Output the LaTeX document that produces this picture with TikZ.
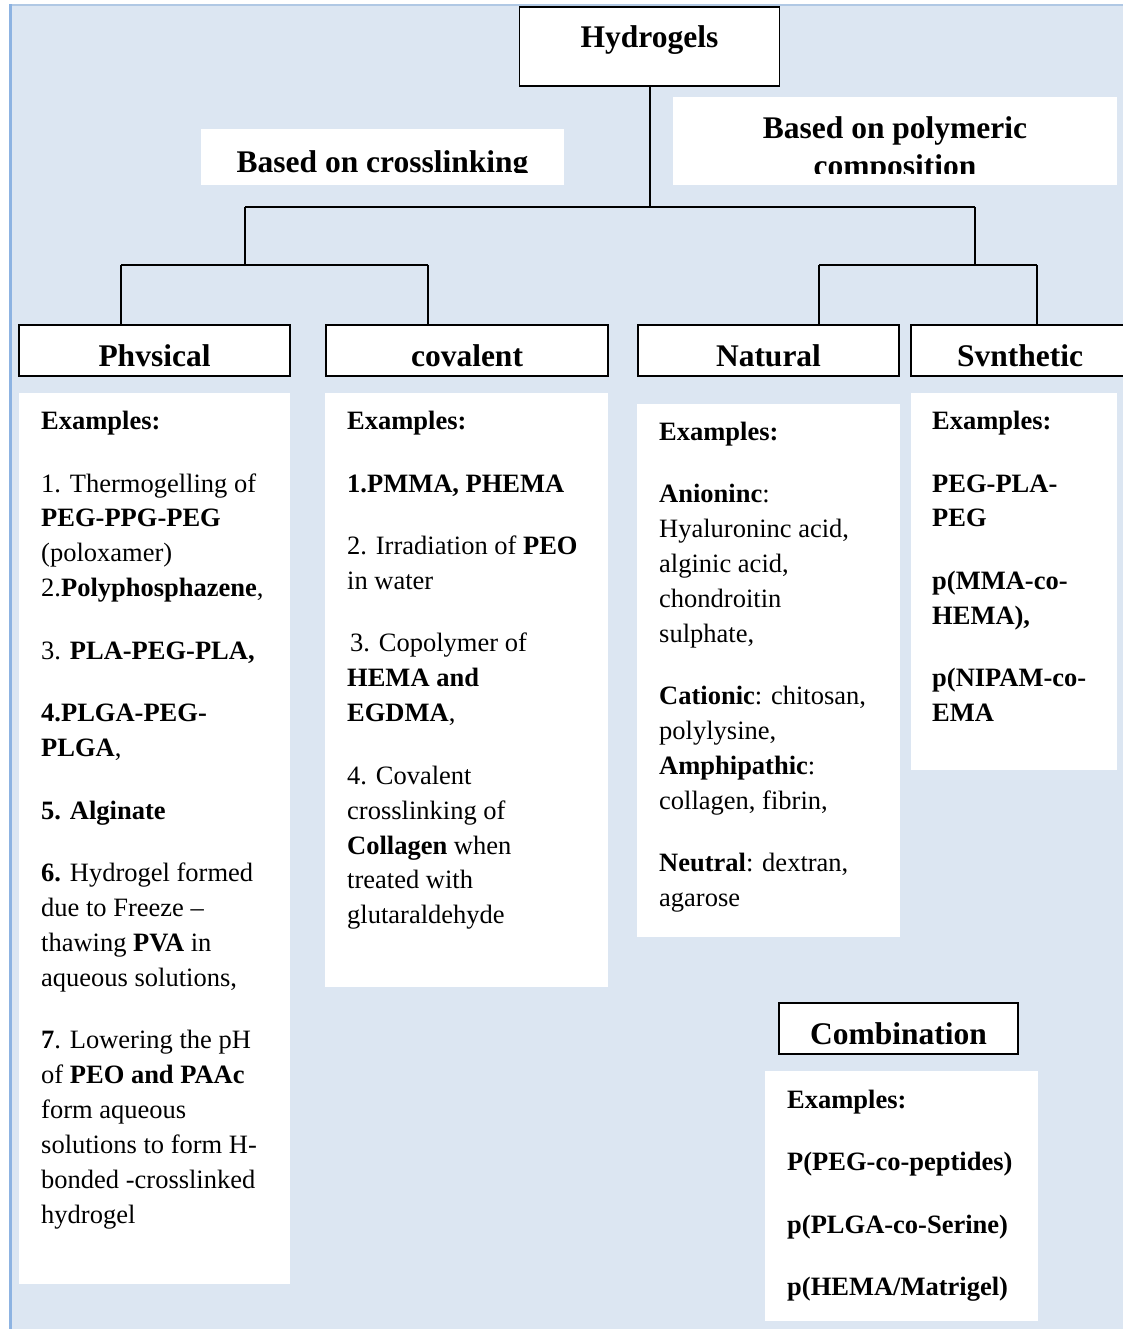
\documentclass[tikz,border=0pt]{standalone}
\usepackage{fontspec}
\setmainfont{Liberation Serif}
\definecolor{bgblue}{HTML}{DCE6F2}
\definecolor{edgeblue}{HTML}{8DB3E2}
\definecolor{topblue}{HTML}{B0C8E4}
\newcommand\bodyfnt{\fontsize{26.5}{35}\selectfont}
\newcommand\headfnt{\fontsize{31.5}{38}\selectfont\bfseries}
\newcommand\putline[3]{\node[bodytext] (#1) at (#2) {#3};}
\tikzset{
  bodytext/.style={anchor=base west, inner sep=0pt, font=\bodyfnt},
  headbox/.style={draw=black, fill=white, line width=1.2pt, inner sep=0pt,
    font=\headfnt, text height=31pt, text depth=0pt, minimum height=51pt},
  whitebox/.style={fill=white, draw=none, inner sep=0pt, anchor=north west},
  labeltext/.style={anchor=base, inner sep=0pt, font=\headfnt},
  conn/.style={draw=black, line width=1.2pt}
}
\begin{document}
\begin{tikzpicture}[x=1pt,y=-1pt]
\useasboundingbox (0,0) rectangle (1123,1329);
\clip (0,0) rectangle (1123,1329);
% background
\fill[bgblue] (9,5) rectangle (1130,1335);
\draw[topblue, line width=1.5pt] (9,5) -- (1130,5);
\draw[edgeblue, line width=3pt] (10.5,4.3) -- (10.5,1335);

% category labels (clipped text boxes)
\node[whitebox, minimum width=363pt, minimum height=56pt] (crossbox) at (201,129) {};
\node[whitebox, minimum width=444pt, minimum height=88pt] (polybox) at (673,97) {};
\begin{scope}
  \clip (201,129) rectangle (564,172.8);
  \node[labeltext] (crosstxt) at (382.5,172.5) {Based on crosslinking};
\end{scope}
\begin{scope}
  \clip (673,97) rectangle (1117,174);
  \node[labeltext] (polytxt1) at (895,139) {Based on polymeric};
  \node[labeltext] (polytxt2) at (895,177) {composition};
\end{scope}

% top node
\node[headbox, minimum width=260pt, minimum height=79pt, text height=22pt, text depth=19pt] (hyd) at (649.5,46.5) {Hydrogels};

% category boxes
\node[headbox, minimum width=271pt] (phys) at (154.5,350.5) {Phvsical};
\node[headbox, minimum width=282pt] (cov) at (467,350.5) {covalent};
\node[headbox, minimum width=261pt] (nat) at (768.5,350.5) {Natural};
\node[headbox, minimum width=218pt] (syn) at (1020,350.5) {Svnthetic};
\node[headbox, minimum width=239pt] (comb) at (898.5,1028.5) {Combination};

% connectors
\coordinate (busL) at (245,207);
\coordinate (busR) at (975,207);
\coordinate (subL) at (245,265);
\coordinate (subR) at (975,265);
\coordinate (pL) at (121,265);
\coordinate (pR) at (428,265);
\coordinate (nL) at (819,265);
\coordinate (nR) at (1037,265);
\draw[conn] (hyd.south -| 650,0) -- (650,207);
\draw[conn] (busL) -- (busR);
\draw[conn] (busL) -- (subL);
\draw[conn] (busR) -- (subR);
\draw[conn] (pL) -- (pR);
\draw[conn] (pL) -- (pL |- phys.north);
\draw[conn] (pR) -- (pR |- cov.north);
\draw[conn] (nL) -- (nR);
\draw[conn] (nL) -- (nL |- nat.north);
\draw[conn] (nR) -- (nR |- syn.north);

% example boxes
\node[whitebox, minimum width=271pt, minimum height=891pt] (physex) at (19,393) {};
\node[whitebox, minimum width=283pt, minimum height=594pt] (covex) at (325,393) {};
\node[whitebox, minimum width=263pt, minimum height=533pt] (natex) at (637,404) {};
\node[whitebox, minimum width=206pt, minimum height=377pt] (synex) at (911,393) {};
\node[whitebox, minimum width=273pt, minimum height=250pt] (combex) at (765,1071) {};

% physical examples
\putline{p0}{41,429.5}{\textbf{Examples:}}
\putline{p1}{41,492}{1. Thermogelling of}
\putline{p2}{41,526.9}{\textbf{PEG-PPG-PEG}}
\putline{p3}{41,561.8}{(poloxamer)}
\putline{p4}{41,596.7}{2.\textbf{Polyphosphazene},}
\putline{p5}{41,659.2}{3. \textbf{PLA-PEG-PLA,}}
\putline{p6}{41,721.7}{\textbf{4.PLGA-PEG-}}
\putline{p7}{41,756.6}{\textbf{PLGA},}
\putline{p8}{41,819.1}{\textbf{5. Alginate}}
\putline{p9}{41,881.6}{\textbf{6.} Hydrogel formed}
\putline{p10}{41,916.5}{due to Freeze –}
\putline{p11}{41,951.4}{thawing \textbf{PVA} in}
\putline{p12}{41,986.3}{aqueous solutions,}
\putline{p13}{41,1048.8}{\textbf{7}. Lowering the pH}
\putline{p14}{41,1083.7}{of \textbf{PEO and PAAc}}
\putline{p15}{41,1118.6}{form aqueous}
\putline{p16}{41,1153.5}{solutions to form H-}
\putline{p17}{41,1188.4}{bonded -crosslinked}
\putline{p18}{41,1223.3}{hydrogel}

% covalent examples
\putline{c0}{347,429.5}{\textbf{Examples:}}
\putline{c1}{347,492}{\textbf{1.PMMA, PHEMA}}
\putline{c2}{347,554.5}{2. Irradiation of \textbf{PEO}}
\putline{c3}{347,589.4}{in water}
\putline{c4}{350,651.9}{3. Copolymer of}
\putline{c5}{347,686.8}{\textbf{HEMA and}}
\putline{c6}{347,721.7}{\textbf{EGDMA},}
\putline{c7}{347,784.2}{4. Covalent}
\putline{c8}{347,819.1}{crosslinking of}
\putline{c9}{347,854}{\textbf{Collagen} when}
\putline{c10}{347,888.9}{treated with}
\putline{c11}{347,923.8}{glutaraldehyde}

% natural examples
\putline{n0}{659,440}{\textbf{Examples:}}
\putline{n1}{659,502.5}{\textbf{Anioninc}:}
\putline{n2}{659,537.4}{Hyaluroninc acid,}
\putline{n3}{659,572.3}{alginic acid,}
\putline{n4}{659,607.2}{chondroitin}
\putline{n5}{659,642.1}{sulphate,}
\putline{n6}{659,704.6}{\textbf{Cationic}: chitosan,}
\putline{n7}{659,739.5}{polylysine,}
\putline{n8}{659,774.4}{\textbf{Amphipathic}:}
\putline{n9}{659,809.3}{collagen, fibrin,}
\putline{n10}{659,871.8}{\textbf{Neutral}: dextran,}
\putline{n11}{659,906.7}{agarose}

% synthetic examples
\putline{s0}{932,429.5}{\textbf{Examples:}}
\putline{s1}{932,492}{\textbf{PEG-PLA-}}
\putline{s2}{932,526.9}{\textbf{PEG}}
\putline{s3}{932,589.4}{\textbf{p(MMA-co-}}
\putline{s4}{932,624.3}{\textbf{HEMA),}}
\putline{s5}{932,686.8}{\textbf{p(NIPAM-co-}}
\putline{s6}{932,721.7}{\textbf{EMA}}

% combination examples
\putline{k0}{787,1108}{\textbf{Examples:}}
\putline{k1}{787,1170.5}{\textbf{P(PEG-co-peptides)}}
\putline{k2}{787,1233}{\textbf{p(PLGA-co-Serine)}}
\putline{k3}{787,1295.5}{\textbf{p(HEMA/Matrigel)}}
\end{tikzpicture}
\end{document}
